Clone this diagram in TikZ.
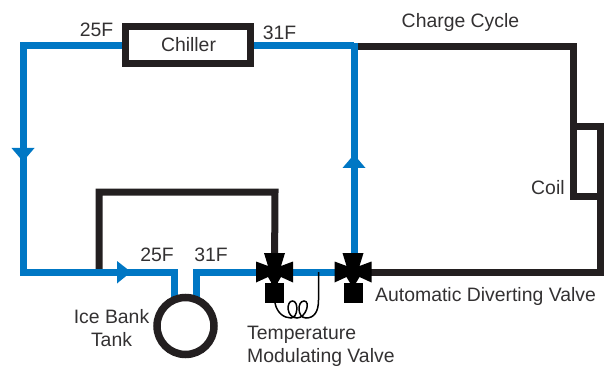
\documentclass[tikz,border=0pt]{standalone}
\usepackage{fontspec}
\setmainfont{Liberation Sans}
\definecolor{pipeblue}{HTML}{0077C4}
\definecolor{pipeblack}{HTML}{231F20}
\definecolor{labelgray}{HTML}{333132}
\tikzset{
  bluepipe/.style={draw=pipeblue,line width=7pt,miter limit=10},
  blackpipe/.style={draw=pipeblack,line width=7pt,miter limit=10},
  unit/.style={draw=pipeblack,line width=7pt,fill=white,inner sep=0pt},
  lbl/.style={text=labelgray,anchor=base,inner sep=0pt,font=\fontsize{19.4}{22}\selectfont},
  lblleft/.style={lbl,anchor=base west},
  flowtip/.style={fill=pipeblue,draw=none},
  valvepart/.style={fill=black,draw=none},
  capillary/.style={draw=black,line width=1.5pt}
}
\begin{document}
\begin{tikzpicture}[x=1pt,y=-1pt]
\useasboundingbox (0,0) rectangle (607,366);
% named points
\coordinate (nw) at (23,47);
\coordinate (sw) at (23,272);
\coordinate (jn) at (354,47);
\coordinate (ne) at (573,47);
\coordinate (v1) at (274.5,272);
\coordinate (v2) at (353,272);
\coordinate (lj) at (99,272);
\coordinate (lt) at (99,192);
\coordinate (lr) at (275,192);
\coordinate (tl) at (174,272);
\coordinate (tr) at (196,272);
\coordinate (se) at (600,272);
% units
\node[unit,minimum width=125pt,minimum height=37pt] (chiller) at (187.5,45.5) {};
\node[unit,fill=none,minimum width=27pt,minimum height=69pt] (coil) at (586.5,161.5) {};
% black pipes
\draw[blackpipe] (jn) ++(3,0) -- (ne) -- (ne |- coil.north);
\draw[blackpipe] (v2) -- (se) -- (se |- coil.south);
\draw[blackpipe] (lj) -- (lt) -- (lr) -- (v1);
% blue pipes
\draw[bluepipe] (chiller.west) -| (sw) -- (tl) -- (174,300);
\draw[bluepipe] (chiller.east) -- (jn |- chiller.west) ++(3,0);
\draw[bluepipe] (357.5,47) -- (jn) -- (v2 -| jn);
\draw[bluepipe] (196,300) -- (tr) -- (v2);
% tank drawn over the pipe ends
\node[unit,line width=7.5pt,circle,minimum size=57pt] (tank) at (185.5,326) {};
% flow arrows
\fill[flowtip] (11.5,148) -- (34.5,148) -- (23,161.5) -- cycle;
\fill[flowtip] (342.5,168) -- (365.5,168) -- (354,154.5) -- cycle;
\fill[flowtip] (117,261) -- (117,283.5) -- (131,272) -- cycle;
% valves
\foreach \v in {v1,v2}{
  \fill[valvepart] (\v) ++(-18.5,-10.5) -- ++(12,4.5) -- ++(-4,-13) -- ++(21,0) -- ++(-4,13) -- ++(12,-4.5)
    -- ++(0,21) -- ++(-12,-5.5) -- ++(-3.2,5.5) -- ++(-6.6,0) -- ++(-3.2,-5.5) -- ++(-12,5.5) -- cycle;
  \fill[valvepart] (\v) ++(-3.3,10) rectangle ++(6.6,2);
  \fill[valvepart] (\v) ++(-9.5,11) rectangle ++(19,20);
}
% capillary
\draw[capillary] (275,303) .. controls (277,313) and (284,318) .. (291,318)
  .. controls (298,318) and (299,301) .. (292.5,301)
  .. controls (286,301) and (286,318) .. (297,318)
  .. controls (306,318) and (311,301) .. (304,301)
  .. controls (297,301) and (297,318) .. (306,318)
  .. controls (314,318) and (318.5,312) .. (318.5,300) -- (318.5,272);
% labels
\node[lbl] (t25a) at (96.5,37) {25F};
\node[lbl] (t31a) at (279.5,40) {31F};
\node[lbl] (tchill) at (188.5,52) {Chiller};
\node[lbl] (tcycle) at (460.5,28) {Charge Cycle};
\node[lbl] (t25b) at (157,261) {25F};
\node[lbl] (t31b) at (211,261) {31F};
\node[lbl] (tice) at (111.5,323) {Ice Bank};
\node[lbl] (ttank) at (111.5,346) {Tank};
\node[lblleft] (ttemp) at (247,339) {Temperature};
\node[lblleft] (tmod) at (247,362) {Modulating Valve};
\node[lblleft] (tauto) at (375,301) {Automatic Diverting Valve};
\node[lblleft] (tcoil) at (531,194) {Coil};
\end{tikzpicture}
\end{document}
